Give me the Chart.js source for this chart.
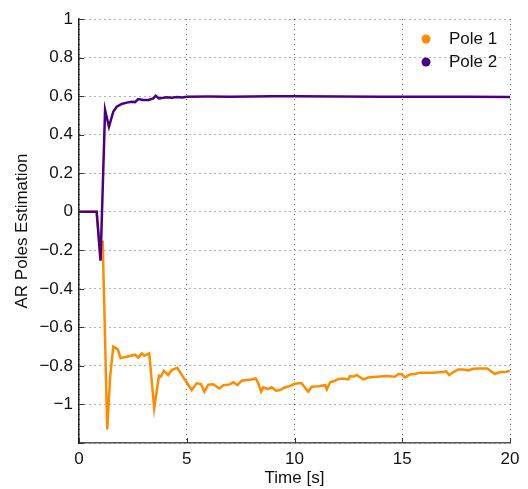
<!DOCTYPE html>
<html>
<head>
<meta charset="utf-8">
<script src="https://cdn.jsdelivr.net/npm/chart.js@4/dist/chart.umd.min.js"></script>
<style>
  body { margin: 0; background: #fff; }
  #wrap { width: 528px; height: 489px; }
</style>
</head>
<body>
<div id="wrap"><canvas id="c" width="528" height="489"></canvas></div>
<script>
// Pole 1 (orange) - time [s] and estimate
const timePole1 = [0, 0.82, 1.0, 1.1, 1.31, 1.45, 1.59, 1.80, 1.93, 2.21, 2.6, 2.75, 2.91, 3.03, 3.26, 3.49, 3.71, 3.80, 3.94, 4.14, 4.30, 4.56, 4.92, 5.23, 5.46, 5.66, 5.82, 6.0, 6.23, 6.51, 6.70, 7.0, 7.16, 7.35, 7.55, 7.78, 8.01, 8.2, 8.32, 8.45, 8.55, 8.76, 8.94, 9.14, 9.33, 9.56, 9.79, 9.98, 10.18, 10.33, 10.49, 10.64, 10.8, 11.1, 11.42, 11.5, 11.65, 11.88, 12.03, 12.27, 12.5, 12.57, 12.73, 12.89, 13.0, 13.2, 13.42, 13.81, 14.28, 14.66, 14.82, 14.97, 15.13, 15.36, 15.59, 15.82, 16.44, 16.9, 17.03, 17.18, 17.37, 17.6, 17.83, 18.06, 18.3, 18.6, 18.95, 19.3, 19.54, 19.85, 20];
const pole1 = [0, 0, -0.25, -0.15, -1.13, -0.85, -0.70, -0.714, -0.76, -0.752, -0.742, -0.757, -0.735, -0.747, -0.735, -1.02, -0.851, -0.856, -0.825, -0.847, -0.821, -0.81, -0.873, -0.925, -0.89, -0.894, -0.934, -0.897, -0.895, -0.917, -0.9, -0.896, -0.885, -0.9, -0.877, -0.873, -0.87, -0.865, -0.89, -0.934, -0.911, -0.92, -0.911, -0.929, -0.925, -0.911, -0.905, -0.894, -0.89, -0.89, -0.913, -0.934, -0.908, -0.905, -0.9, -0.922, -0.885, -0.877, -0.868, -0.865, -0.87, -0.853, -0.856, -0.847, -0.856, -0.87, -0.86, -0.856, -0.853, -0.856, -0.842, -0.842, -0.86, -0.844, -0.842, -0.835, -0.835, -0.832, -0.827, -0.847, -0.832, -0.818, -0.818, -0.823, -0.815, -0.813, -0.813, -0.842, -0.832, -0.83, -0.825];

// Pole 2 (purple)
const timePole2 = [0, 0.82, 1.0, 1.21, 1.39, 1.59, 1.75, 1.98, 2.21, 2.45, 2.6, 2.75, 2.98, 3.22, 3.45, 3.56, 3.71, 4.07, 4.3, 4.53, 4.8, 5, 6, 7, 8, 9, 10, 12, 14, 16, 18, 20];
const pole2 = [0, 0, -0.254, 0.528, 0.441, 0.519, 0.545, 0.559, 0.566, 0.571, 0.569, 0.585, 0.58, 0.58, 0.588, 0.602, 0.588, 0.594, 0.591, 0.595, 0.593, 0.597, 0.598, 0.597, 0.598, 0.599, 0.599, 0.598, 0.597, 0.596, 0.596, 0.595];

const seriesLabels = ['Pole 1', 'Pole 2'];
const seriesColors = ['#ff8c00', '#4b0082'];

const FONT = 'Liberation Sans, Arial, Helvetica, sans-serif';
const minus = v => String(v).replace('-', '\u2212');

const toPoints = (xs, ys) => xs.map((x, i) => ({ x: x, y: ys[i] }));

// inward tick marks like matlab
const innerTicks = {
  id: 'innerTicks',
  afterDraw(chart) {
    const { ctx, scales: { x, y } } = chart;
    ctx.save();
    ctx.strokeStyle = '#333';
    ctx.lineWidth = 1;
    ctx.beginPath();
    x.ticks.forEach(t => {
      const px = Math.round(x.getPixelForValue(t.value)) + 0.5;
      ctx.moveTo(px, y.bottom);
      ctx.lineTo(px, y.bottom - 5);
    });
    y.ticks.forEach(t => {
      const py = Math.round(y.getPixelForValue(t.value)) + 0.5;
      ctx.moveTo(x.left, py);
      ctx.lineTo(x.left + 5, py);
    });
    ctx.stroke();
    ctx.restore();
  }
};

// simple legend at top right with dots
const dotLegend = {
  id: 'dotLegend',
  afterDraw(chart) {
    const { ctx, chartArea } = chart;
    ctx.save();
    ctx.font = '17px ' + FONT;
    ctx.textBaseline = 'middle';
    seriesLabels.forEach((lab, i) => {
      const cy = chartArea.top + 20 + i * 23;
      const cx = chartArea.right - 84;
      ctx.fillStyle = seriesColors[i];
      ctx.beginPath();
      ctx.arc(cx, cy, 4.5, 0, Math.PI * 2);
      ctx.fill();
      ctx.fillStyle = '#111';
      ctx.fillText(lab, cx + 23, cy);
    });
    ctx.restore();
  }
};

new Chart(document.getElementById('c'), {
  type: 'line',
  data: {
    datasets: [
      {
        label: seriesLabels[0],
        data: toPoints(timePole1, pole1),
        borderColor: seriesColors[0],
        borderWidth: 2.5,
        pointRadius: 0,
        tension: 0,
        order: 1
      },
      {
        label: seriesLabels[1],
        data: toPoints(timePole2, pole2),
        borderColor: seriesColors[1],
        borderWidth: 2.5,
        pointRadius: 0,
        tension: 0,
        order: 0
      }
    ]
  },
  options: {
    responsive: false,
    animation: false,
    layout: { padding: { top: 19, right: 18, left: 0, bottom: 0 } },
    plugins: {
      legend: { display: false },
      tooltip: { enabled: false }
    },
    scales: {
      x: {
        type: 'linear',
        min: 0,
        max: 20,
        afterFit: s => { s.height = 46; },
        ticks: {
          stepSize: 5,
          padding: 6,
          color: '#111',
          font: { family: FONT, size: 17 },
          maxRotation: 0
        },
        grid: { color: 'rgba(0,0,0,0.6)', lineWidth: 1, drawTicks: false },
        border: { display: true, color: '#555', width: 1.5, dash: [1, 4] },
        title: {
          display: true,
          text: 'Time [s]',
          color: '#111',
          font: { family: FONT, size: 17 },
          padding: { top: -4, bottom: 0 }
        }
      },
      y: {
        type: 'linear',
        min: -1.2,
        max: 1,
        afterFit: s => { s.width = 79; },
        ticks: {
          stepSize: 0.2,
          padding: 6,
          color: '#111',
          font: { family: FONT, size: 17 },
          callback: v => (Math.abs(v + 1.2) < 1e-6 ? '' : minus(Math.round(v * 10) / 10))
        },
        grid: { color: 'rgba(0,0,0,0.6)', lineWidth: 1, drawTicks: false },
        border: { display: true, color: '#222', width: 1.5, dash: [1, 4] },
        title: {
          display: true,
          text: 'AR Poles Estimation',
          color: '#111',
          font: { family: FONT, size: 17 },
          padding: { top: 12, bottom: 0 }
        }
      }
    }
  },
  plugins: [innerTicks, dotLegend]
});
</script>
</body>
</html>
